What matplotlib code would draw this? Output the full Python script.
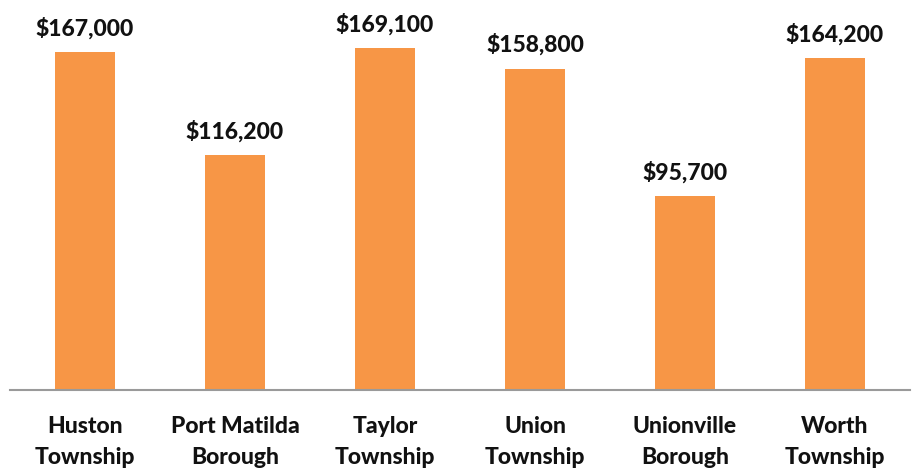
import matplotlib
matplotlib.use("Agg")
from matplotlib import pyplot as plt

# data
places = ['Huston\nTownship', 'Port Matilda\nBorough', 'Taylor\nTownship',
          'Union\nTownship', 'Unionville\nBorough', 'Worth\nTownship']
values = [167000, 116200, 169100, 158800, 95700, 164200]

plt.rcParams['font.family'] = ['Lato', 'DejaVu Sans']

fig = plt.figure(figsize=(9.13, 4.71), dpi=100)
ax = fig.add_axes([10 / 913, 81 / 471, 900 / 913, 390 / 471])

x = range(len(places))
bars = ax.bar(x, values, width=0.4, color='#F79646', zorder=2)

for xi, v in zip(x, values):
    ax.annotate('${:,.0f}'.format(v), (xi, v), xytext=(0, 9),
                textcoords='offset points', ha='center', va='bottom',
                fontsize=16.5, fontweight='black', color='#111111')

ax.set_xlim(-0.5, len(places) - 0.5)
ax.set_ylim(0, 192700)
ax.set_xticks(list(x))
ax.set_xticklabels(places, fontsize=16.5, fontweight='black', color='#111111',
                   linespacing=1.55)
ax.tick_params(axis='x', length=0, pad=19)
ax.set_yticks([])
for s in ['top', 'right', 'left']:
    ax.spines[s].set_visible(False)
ax.spines['bottom'].set_color('#9a9a9a')
ax.spines['bottom'].set_linewidth(1.5)

fig.savefig('out.png', dpi=100)
